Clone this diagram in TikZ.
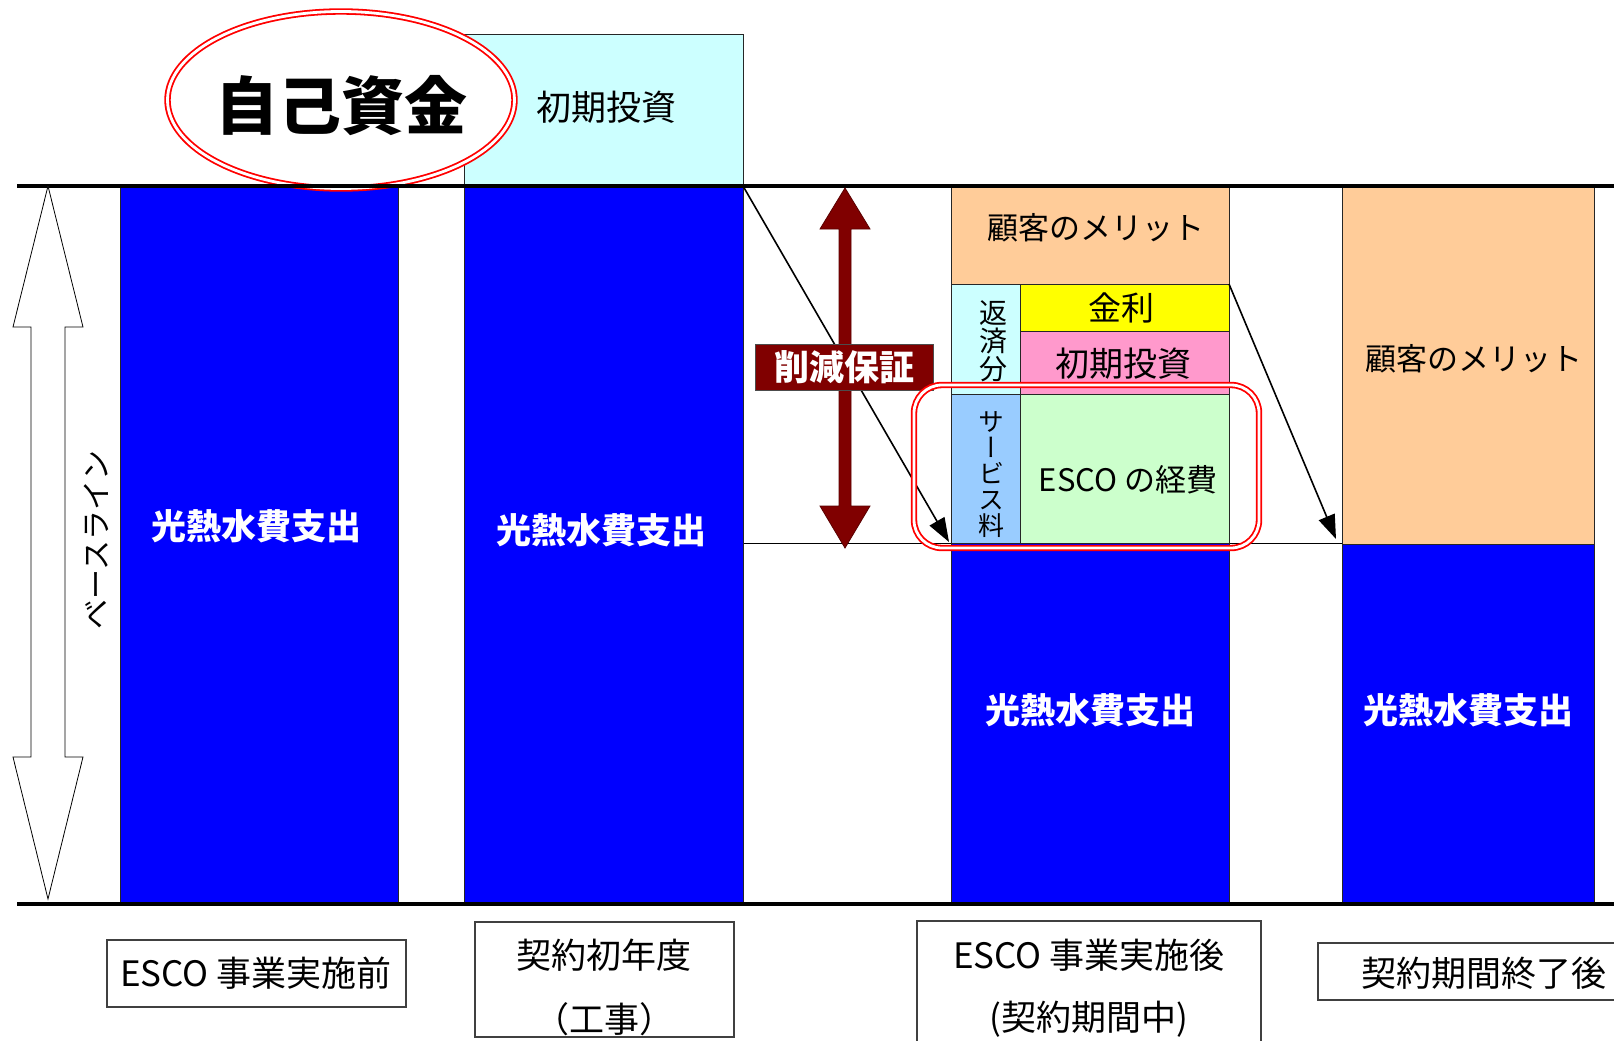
\documentclass[tikz,border=0pt]{standalone}
\usepackage{fontspec}
\setmainfont{Noto Sans CJK JP}
\newfontfamily\jpv[RawFeature=+vert]{Noto Sans CJK JP}
\usetikzlibrary{arrows.meta,fit,shapes.geometric}
\definecolor{barblue}{HTML}{0000FF}
\definecolor{lcyan}{HTML}{CCFFFF}
\definecolor{peach}{HTML}{FFCC99}
\definecolor{yel}{HTML}{FFFF00}
\definecolor{pinkc}{HTML}{FF99CC}
\definecolor{lblue}{HTML}{99CCFF}
\definecolor{lgreen}{HTML}{CCFFCC}
\definecolor{darkred}{HTML}{800000}
\definecolor{ringred}{HTML}{FF0000}
\newcommand\myfs[1]{\fontsize{#1}{#1}\selectfont}
\begin{document}
\begin{tikzpicture}[x=1pt,y=-1pt,
 rect/.style={inner sep=0pt,outer sep=0pt,draw=black!85,line width=0.9pt},
 txt/.style={inner sep=0pt,outer sep=0pt,align=center},
 wtxt/.style={txt,text=white,font=\bfseries\myfs{35}},
 lblbox/.style={inner sep=0pt,outer sep=0pt,draw=black!75,line width=1.1pt},
 redring/.style={draw=ringred,double=white,double distance=2.8pt,line width=1.8pt},
 conn/.style={line width=1.6pt,-{Triangle[length=24pt,width=17pt]}},
]
\useasboundingbox (0,0) rectangle (1614,1041);
\fill[white] (0,0) rectangle (1614,1041);

% thin baseline of savings
\coordinate (sl1) at (743,543);
\coordinate (sl2) at (1356,543);
\draw[line width=1pt] (sl1) -- (sl2);

% bar 1
\node[rect,fill=barblue,fit={(120,186) (398,904)}] (b1) {};
% bar 2
\node[rect,fill=lcyan,fit={(464,34) (743,186)}] (inv) {};
\node[rect,fill=barblue,fit={(464,186) (743,904)}] (b2) {};
% bar 3
\node[rect,fill=peach,fit={(951,186) (1229,284)}] (m3) {};
\node[rect,fill=lcyan,fit={(951,284) (1020,394)}] (rep) {};
\node[rect,fill=yel,fit={(1020,284) (1229,331)}] (kin) {};
\node[rect,fill=pinkc,fit={(1020,331) (1229,394)}] (shk) {};
\node[rect,fill=lblue,fit={(951,394) (1020,543)}] (srv) {};
\node[rect,fill=lgreen,fit={(1020,394) (1229,543)}] (esc) {};
\node[rect,fill=barblue,fit={(951,543) (1229,904)}] (b3) {};
% bar 4
\node[rect,fill=peach,fit={(1342,186) (1594,544)}] (m4) {};
\node[rect,fill=barblue,fit={(1342,544) (1594,904)}] (b4) {};

% texts in bars
\node[wtxt] (t1) at (256,526) {光熱水費支出};
\node[wtxt] (t2) at (601,530) {光熱水費支出};
\node[wtxt] (t3) at (1090,710) {光熱水費支出};
\node[wtxt] (t4) at (1468,710) {光熱水費支出};
\node[txt,font=\myfs{35}] (tinv) at (606,107) {初期投資};
\node[txt,font=\myfs{31}] (tm3) at (1096,228) {顧客のメリット};
\node[txt,font=\myfs{31}] (tm4) at (1474,359) {顧客のメリット};
\node[txt,font=\myfs{33}] (tkin) at (1121,308) {金利};
\node[txt,font=\myfs{34}] (tshk) at (1123,364) {初期投資};
\node[txt,font=\myfs{31}] (tesc) at (1128,480) {ESCO の経費};
\node[txt,font=\jpv\fontsize{28}{28}\selectfont] (trep) at (993,341) {返\\済\\分};
\node[txt,font=\jpv\fontsize{26}{26}\selectfont] (tsrv) at (991,475) {サ\\ー\\ビ\\ス\\料};

% own funds ellipse
\node[redring,fill=white,ellipse,minimum width=347pt,minimum height=177pt,inner sep=0pt] (ell) at (341,100) {};
\node[txt,font=\bfseries\myfs{63}] (tell) at (341,106) {自己資金};

% axis lines
\coordinate (tl1) at (17,186);
\coordinate (tl2) at (1614,186);
\coordinate (bl1) at (17,904);
\coordinate (bl2) at (1614,904);
\draw[line width=4pt] (tl1) -- (tl2);
\draw[line width=4pt] (bl1) -- (bl2);

% baseline hollow arrow
\draw[fill=white,draw=black,line width=0.8pt]
 (48,186) -- (83,327) -- (65,327) -- (65,757) -- (83,757) -- (48,899)
 -- (13,757) -- (31,757) -- (31,327) -- (13,327) -- cycle;
\node[txt,font=\myfs{30},rotate=90] (tbase) at (96,540) {ベースライン};

% diagonal connectors
\coordinate (a1e) at (949,542);
\coordinate (a2e) at (1336,539);
\draw[conn] (b2.north east) -- (a1e);
\draw[conn] (kin.north east) -- (a2e);

% guaranteed savings arrow
\draw[fill=darkred,draw=darkred!70!black,line width=0.8pt]
 (845,188) -- (870,229) -- (851,229) -- (851,506) -- (870,506) -- (845,548)
 -- (820,506) -- (839,506) -- (839,229) -- (820,229) -- cycle;
\node[fill=darkred,draw=black!70,line width=1pt,minimum width=178pt,minimum height=46pt,inner sep=0pt,text=white,font=\bfseries\myfs{35}] (sg) at (844,367.5) {削減保証};

% ESCO expenses highlight
\node[redring,rounded corners=28pt,inner sep=0pt,fit={(914,385) (1259,548)}] (rr) {};

% bottom labels
\node[lblbox,fit={(107,940) (406,1007)}] (l1) {};
\node[txt,font=\myfs{35}] (tl1t) at (256,973) {ESCO 事業実施前};
\node[lblbox,fit={(475,922) (734,1037)}] (l2) {};
\node[txt,font=\myfs{35}] (tl2a) at (604,955) {契約初年度};
\node[txt,font=\myfs{35}] (tl2b) at (604,1019) {（工事）};
\node[lblbox,fit={(917,921) (1261,1050)}] (l3) {};
\node[txt,font=\myfs{35}] (tl3a) at (1089,955) {ESCO 事業実施後};
\node[txt,font=\myfs{35}] (tl3b) at (1089,1019) {(契約期間中)};
\node[lblbox,fit={(1318,943) (1625,1000)}] (l4) {};
\node[txt,font=\myfs{35}] (tl4) at (1484,973) {契約期間終了後};
\end{tikzpicture}
\end{document}
